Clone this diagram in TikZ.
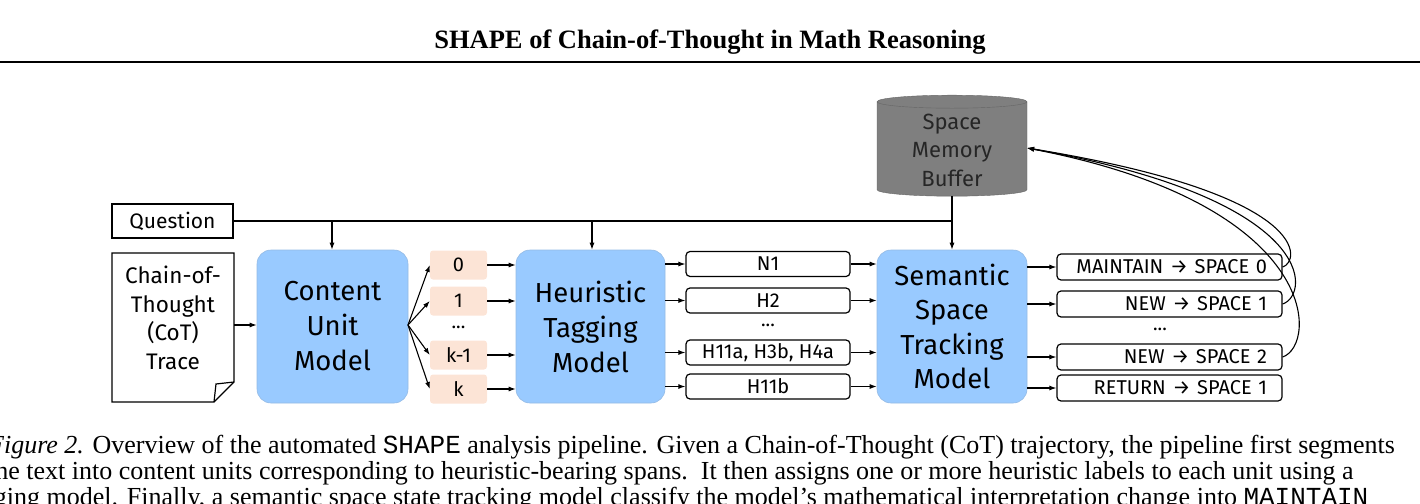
\documentclass[tikz,border=0pt]{standalone}
\usepackage{fontspec}
\setmainfont{Liberation Serif}
\newfontfamily\diag{Fira Sans}
\newfontfamily\diagmono{Liberation Mono}
\usetikzlibrary{shapes.geometric,arrows.meta,calc}
\definecolor{blu}{RGB}{153,202,255}
\definecolor{peach}{RGB}{252,228,214}
\definecolor{cyl}{RGB}{127,127,127}
\begin{document}
\begin{tikzpicture}[x=1pt,y=-1pt,
  big/.style={draw=blu!80!gray,fill=blu,rounded corners=14pt,line width=0.6pt,align=center,font=\diag\fontsize{27.5}{35}\selectfont},
  pch/.style={fill=peach,rounded corners=3pt,minimum width=57pt,minimum height=29pt,font=\diag\fontsize{20}{20}\selectfont},
  tag/.style={draw,line width=1.2pt,rounded corners=4pt,minimum width=164pt,minimum height=25pt,font=\diag\fontsize{20}{20}\selectfont},
  outb/.style={draw,line width=1.2pt,rounded corners=4pt,minimum width=225pt,minimum height=26pt,font=\diag\fontsize{20}{20}\selectfont,text width=195pt,align=right,inner sep=2pt},
  arr/.style={-{Latex[length=7pt,width=5pt]},line width=1.1pt},
  dots/.style={font=\diag\fontsize{19}{20}\selectfont}]
\useasboundingbox (0,0) rectangle (1420,503);
\clip (0,0) rectangle (1420,503);
% header
\node[font=\bfseries\fontsize{26.5}{28}\selectfont] (hdr) at (710,42) {SHAPE of Chain-of-Thought in Math Reasoning};
\draw[line width=2.5pt] (0,62) coordinate (hl) -- (1420,62) coordinate (hr);
% inputs
\node[draw,line width=1.2pt,minimum width=121pt,minimum height=34pt,font=\diag\fontsize{21}{20}\selectfont] (q) at (172.5,221) {Question};
\draw[line width=1.2pt] (112,253) -- (234,253) -- (234,382) -- (214,402) -- (112,402) -- cycle;
\draw[line width=1.2pt] (234,382) -- (216,384) -- (214,402);
\node[align=center,font=\diag\fontsize{22.5}{28.5}\selectfont] (cot) at (173,318) {Chain-of-\\Thought\\(CoT)\\Trace};
\coordinate (cotr) at (234,325);
% big boxes
\node[big,minimum width=151pt,minimum height=153pt] (cum) at (332.5,326.5) {Content\\Unit\\Model};
\node[big,minimum width=149pt,minimum height=153pt] (htm) at (590.5,326.5) {Heuristic\\Tagging\\Model};
\node[big,minimum width=150pt,minimum height=153pt,font=\diag\fontsize{27.5}{34.5}\selectfont] (sst) at (952,326.5) {Semantic\\Space\\Tracking\\Model};
% cylinder
\node[cylinder,shape border rotate=90,aspect=0.15,fill=cyl,draw=cyl!80!black,minimum width=150pt,minimum height=101pt,align=center,font=\diag\fontsize{22}{28.5}\selectfont,text=black!85] (buf) at (952,150) {Space\\Memory\\Buffer};
% peach
\node[pch] (p0) at (458.5,265) {0};
\node[pch] (p1) at (458.5,301) {1};
\node[dots] (pd) at (458.5,327) {...};
\node[pch] (pk1) at (458.5,355) {k-1};
\node[pch] (pk) at (458.5,389) {k};
% tags
\node[tag] (t1) at (768,264) {N1};
\node[tag] (t2) at (768,300.5) {H2};
\node[dots] (td) at (768,325) {...};
\node[tag] (t3) at (768,352.5) {H11a, H3b, H4a};
\node[tag] (t4) at (768,386.5) {H11b};
% outputs
\node[outb] (o1) at (1169.5,267) {MAINTAIN → SPACE 0};
\node[outb] (o2) at (1169.5,304) {NEW → SPACE 1};
\node[dots] (od) at (1160,329) {...};
\node[outb] (o3) at (1169.5,357) {NEW → SPACE 2};
\node[outb] (o4) at (1169.5,388) {RETURN → SPACE 1};
% connectors
\draw[arr] (cotr) -- (cum.west|-cotr);
\draw[line width=1.1pt] (q.east) -- (952,221) coordinate (qe);
\draw[arr] (332,221) -- (cum.north-|332,0);
\draw[arr] (592,221) -- (htm.north-|592,0);
\draw[arr] (buf.bottom) -- (sst.north);
\coordinate (cf) at (408,325);
\foreach \p in {p0,p1,pk1,pk} { \draw[arr] (cf) -- (\p.west); \draw[arr] (\p.east) -- (htm.west|-\p.east); }
\foreach \t in {t1,t2,t3,t4} { \draw[arr] (htm.east|-\t.west) -- (\t.west); \draw[arr] (\t.east) -- (sst.west|-\t.east); }
\foreach \o in {o1,o2,o3,o4} { \draw[arr] (sst.east|-\o.west) -- (\o.west); }
\coordinate (bin) at (1027,148);
\draw[arr] (o1.east) .. controls (1300,262) and (1315,195) .. (bin);
\draw[arr] (o2.east) .. controls (1310,295) and (1320,200) .. (bin);
\draw[arr] (o3.east) .. controls (1318,345) and (1322,205) .. (bin);
% caption
\node[anchor=west,inner sep=0,font=\fontsize{26}{26}\selectfont] (c1) at (-12,447) {\textit{Figure 2.} Overview of the automated {\diagmono SHAPE} analysis pipeline. Given a Chain-of-Thought (CoT) trajectory, the pipeline first segments};
\node[anchor=west,inner sep=0,font=\fontsize{26}{26}\selectfont] (c2) at (-12,473) {the text into content units corresponding to heuristic-bearing spans.\ \ It then assigns one or more heuristic labels to each unit using a};
\node[anchor=west,inner sep=0,font=\fontsize{26}{26}\selectfont] (c3) at (-38,499) {tagging model. Finally, a semantic space state tracking model classify the model's mathematical interpretation change into {\diagmono MAINTAIN}};
\end{tikzpicture}
\end{document}
